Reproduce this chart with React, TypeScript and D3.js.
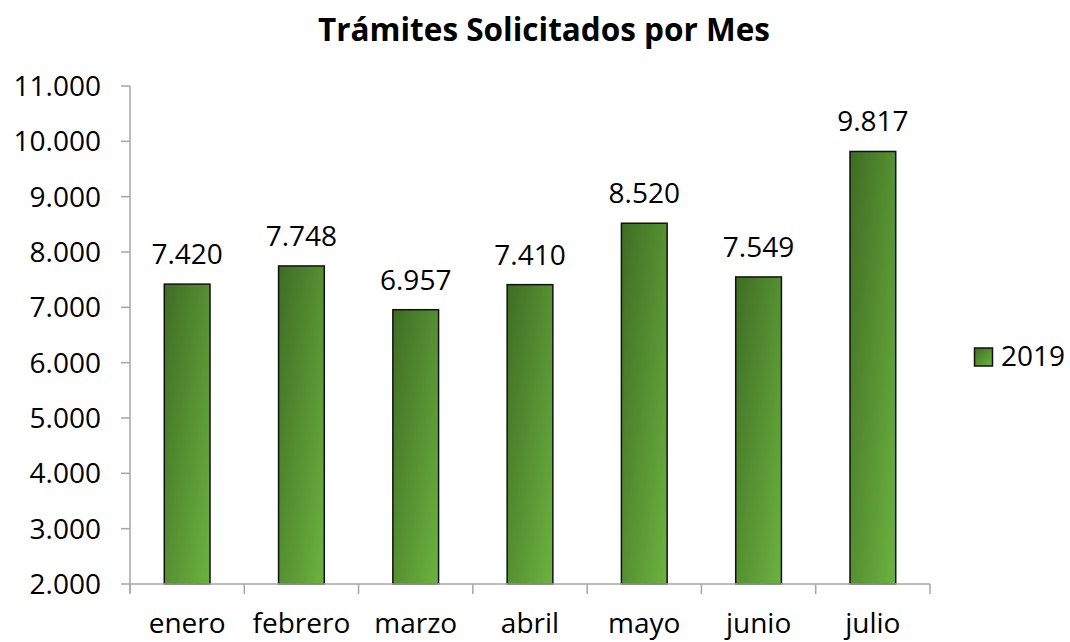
import React from "react";
import * as d3 from "d3";

const months = ["enero", "febrero", "marzo", "abril", "mayo", "junio", "julio"];
const values2019 = [7420, 7748, 6957, 7410, 8520, 7549, 9817];
const yTicks = [2000, 3000, 4000, 5000, 6000, 7000, 8000, 9000, 10000, 11000];
const seriesName = "2019";
const title = "Trámites Solicitados por Mes";

const fmt = (v: number) => d3.format(",")(v).replace(/,/g, ".");

export default function App() {
  const W = 1070, H = 642;
  const left = 130, right = 930, top = 86, bottom = 584;
  const x = d3.scaleBand<string>().domain(months).range([left, right]).paddingInner(0.6).paddingOuter(0.3);
  const xb = d3.scaleBand<string>().domain(months).range([left, right]);
  const y = d3.scaleLinear().domain([2000, 11000]).range([bottom, top]);
  const font = "'Open Sans', Lato, sans-serif";
  const axisColor = "#a6a6a6";
  return (
    <svg width={W} height={H} style={{ position: "absolute", left: 0, top: 0, background: "#fff" }}>
      <defs>
        <linearGradient id="g" x1="0" y1="0" x2="1" y2="1" gradientUnits="objectBoundingBox">
          <stop offset="0" stopColor="#3f6d24" />
          <stop offset="1" stopColor="#6cb33f" />
        </linearGradient>
        <linearGradient id="gl" x1="0" y1="0" x2="1" y2="1">
          <stop offset="0" stopColor="#3f6d24" />
          <stop offset="1" stopColor="#6cb33f" />
        </linearGradient>
      </defs>
      <text x={544} y={41} textAnchor="middle" fontFamily={font} fontWeight="bold" fontSize={31.5} fill="#000">{title}</text>
      {/* y axis */}
      <line x1={left} x2={left} y1={top} y2={bottom + 9} stroke={axisColor} strokeWidth={1.5} />
      {yTicks.map((t) => (
        <g key={t}>
          <line x1={left - 9} x2={left} y1={y(t)} y2={y(t)} stroke={axisColor} strokeWidth={1.5} />
          <text x={101} y={y(t) + 10} textAnchor="end" fontFamily={font} fontSize={28} fill="#000">{fmt(t)}</text>
        </g>
      ))}
      {/* bars */}
      {months.map((m, i) => (
        <g key={m}>
          <rect x={x(m)} y={y(values2019[i])} width={x.bandwidth()} height={bottom - y(values2019[i])}
            fill="url(#g)" stroke="#111" strokeWidth={1.5} />
          <text x={(x(m) as number) + x.bandwidth() / 2} y={y(values2019[i]) - 20} textAnchor="middle"
            fontFamily={font} fontSize={28} fill="#000">{fmt(values2019[i])}</text>
          <text x={(xb(m) as number) + xb.bandwidth() / 2} y={633} textAnchor="middle"
            fontFamily={font} fontSize={28} fill="#000">{m}</text>
        </g>
      ))}
      {/* x axis */}
      <line x1={left} x2={right} y1={bottom} y2={bottom} stroke={axisColor} strokeWidth={1.5} />
      {months.map((m) => (
        <line key={"t" + m} x1={xb(m)} x2={xb(m)} y1={bottom} y2={bottom + 10} stroke={axisColor} strokeWidth={1.5} />
      ))}
      <line x1={right} x2={right} y1={bottom} y2={bottom + 10} stroke={axisColor} strokeWidth={1.5} />
      {/* legend */}
      <rect x={974.5} y={348} width={18} height={18} fill="url(#gl)" stroke="#111" strokeWidth={1.5} />
      <text x={1001} y={366} fontFamily={font} fontSize={28} fill="#000">{seriesName}</text>
    </svg>
  );
}
